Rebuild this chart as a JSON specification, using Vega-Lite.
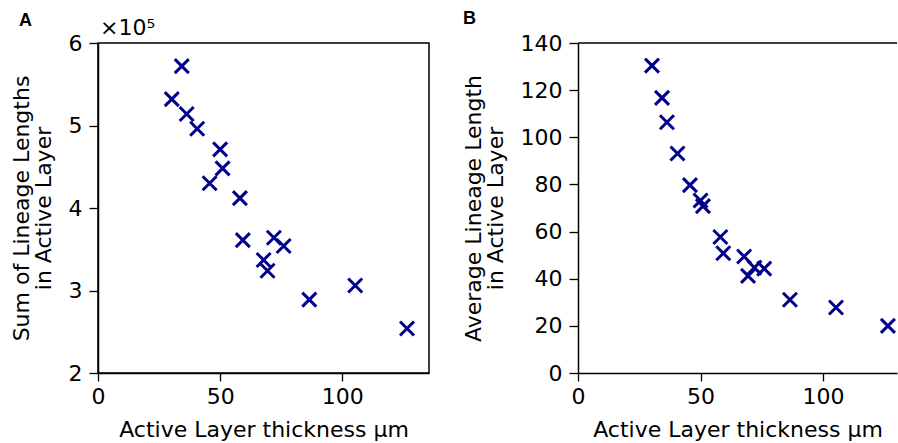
{
  "$schema": "https://vega.github.io/schema/vega-lite/v6.json",
  "padding": {"left": 9, "top": 10, "right": 0, "bottom": 0},
  "spacing": 32,
  "datasets": {
    "pts": [
      {"thickness": 30.2, "sum": 532000, "avg": 130.4},
      {"thickness": 34.3, "sum": 572000, "avg": 116.7},
      {"thickness": 36.3, "sum": 514000, "avg": 106.4},
      {"thickness": 40.6, "sum": 496000, "avg": 93.1},
      {"thickness": 45.7, "sum": 430000, "avg": 79.7},
      {"thickness": 50.0, "sum": 471000, "avg": 73.2},
      {"thickness": 51.0, "sum": 448000, "avg": 70.8},
      {"thickness": 58.1, "sum": 412000, "avg": 57.7},
      {"thickness": 59.3, "sum": 361000, "avg": 50.8},
      {"thickness": 67.8, "sum": 337000, "avg": 49.4},
      {"thickness": 69.4, "sum": 324000, "avg": 41.2},
      {"thickness": 72.0, "sum": 364000, "avg": 44.7},
      {"thickness": 76.0, "sum": 354000, "avg": 44.3},
      {"thickness": 86.5, "sum": 289000, "avg": 31.1},
      {"thickness": 105.3, "sum": 306000, "avg": 27.8},
      {"thickness": 126.5, "sum": 254000, "avg": 20.0}
    ]
  },
  "config": {
    "font": "DejaVu Sans",
    "view": {"stroke": "black", "strokeWidth": 1.5},
    "axis": {
      "grid": false,
      "domain": true,
      "domainColor": "black",
      "domainWidth": 1.5,
      "tickColor": "black",
      "tickWidth": 1.3,
      "tickSize": 9,
      "labelFont": "DejaVu Sans",
      "labelFontSize": 22,
      "labelColor": "black",
      "labelPadding": 7,
      "labelFlush": false,
      "titleFont": "DejaVu Sans",
      "titleFontSize": 22,
      "titleFontWeight": "normal",
      "titleColor": "black",
      "titleLineHeight": 22
    },
    "axisX": {"tickSize": 8, "labelPadding": 5, "titlePadding": 12},
    "axisY": {"titlePadding": 13}
  },
  "hconcat": [
    {
      "width": 331,
      "height": 330,
      "title": {"text": "A", "anchor": "start", "frame": "bounds", "font": "Liberation Sans", "fontWeight": "bold", "fontSize": 18, "color": "black", "dx": 9, "offset": -13},
      "layer": [
        {
          "data": {"name": "pts"},
          "mark": {"type": "point", "shape": "M-1,-1L1,1M-1,1L1,-1", "filled": false, "strokeWidth": 3, "color": "#00008b", "size": 196, "opacity": 1},
          "encoding": {
            "x": {"field": "thickness", "type": "quantitative", "scale": {"domain": [0, 135.5], "nice": false, "zero": false}, "axis": {"values": [0, 50, 100], "title": "Active Layer thickness μm"}},
            "y": {"field": "sum", "type": "quantitative", "scale": {"domain": [200000, 600000], "nice": false, "zero": false}, "axis": {"values": [200000, 300000, 400000, 500000, 600000], "labelExpr": "format(datum.value / 100000, 'd')", "title": ["Sum of Lineage Lengths", "in Active Layer"]}}
          }
        },
        {
          "data": {"values": [{}]},
          "mark": {"type": "text", "text": "×10⁵", "align": "left", "baseline": "bottom", "dx": 2, "dy": -3, "fontSize": 22, "color": "black", "font": "DejaVu Sans"},
          "encoding": {
            "x": {"datum": 0, "type": "quantitative"},
            "y": {"datum": 600000, "type": "quantitative"}
          }
        }
      ]
    },
    {
      "width": 319,
      "height": 330,
      "view": {"stroke": null},
      "title": {"text": "B", "anchor": "start", "frame": "bounds", "font": "Liberation Sans", "fontWeight": "bold", "fontSize": 18, "color": "black", "dx": 1, "offset": 4},
      "layer": [
        {
          "data": {"name": "pts"},
          "mark": {"type": "point", "shape": "M-1,-1L1,1M-1,1L1,-1", "filled": false, "strokeWidth": 3, "color": "#00008b", "size": 196, "opacity": 1},
          "encoding": {
            "x": {"field": "thickness", "type": "quantitative", "scale": {"domain": [0, 130.2], "nice": false, "zero": false}, "axis": {"values": [0, 50, 100], "title": "Active Layer thickness μm"}},
            "y": {"field": "avg", "type": "quantitative", "scale": {"domain": [0, 140], "nice": false}, "axis": {"values": [0, 20, 40, 60, 80, 100, 120, 140], "title": ["Average Lineage Length", "in Active Layer"]}}
          }
        },
        {
          "data": {"values": [{}]},
          "mark": {"type": "rule", "color": "black", "strokeWidth": 1.5},
          "encoding": {
            "y": {"datum": 140, "type": "quantitative"}
          }
        }
      ]
    }
  ]
}
